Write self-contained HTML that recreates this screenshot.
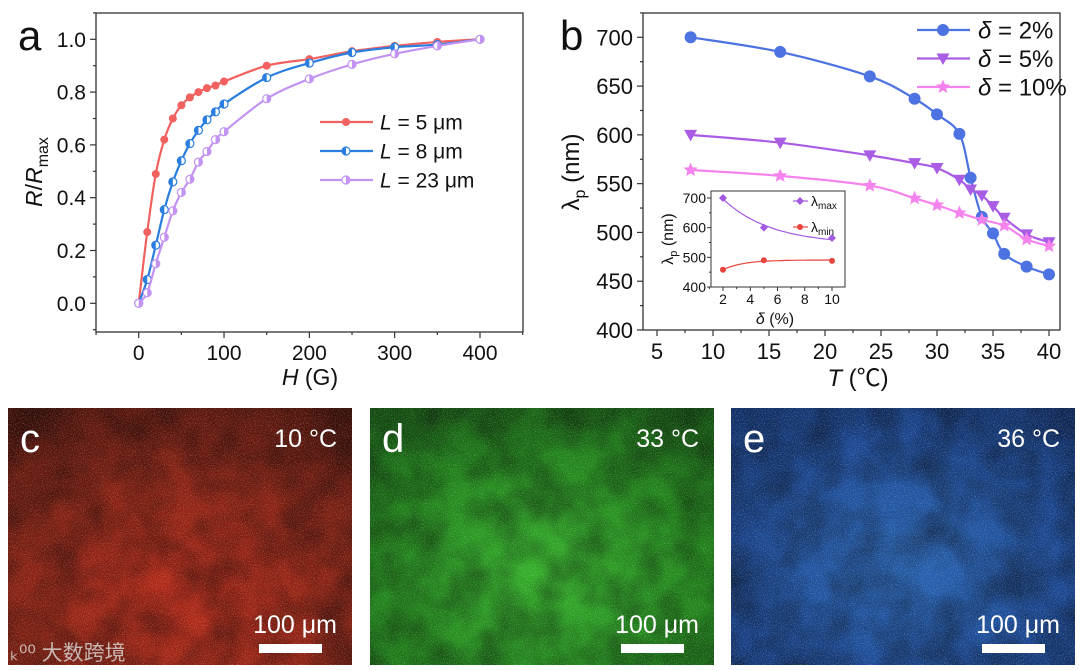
<!DOCTYPE html>
<html><head><meta charset="utf-8">
<style>
body{margin:0;background:#fff;width:1080px;height:670px;overflow:hidden;position:relative;font-family:"Liberation Sans","Noto Sans CJK SC",sans-serif}
svg{position:absolute;left:0;top:0}
</style></head><body>
<svg id="chart" width="1080" height="670" viewBox="0 0 1080 670" font-family="Liberation Sans, Noto Sans CJK SC, sans-serif">
<defs>
<filter id="noise" x="0" y="0" width="100%" height="100%">
<feTurbulence type="fractalNoise" baseFrequency="0.9" numOctaves="2" seed="3" result="t"/>
<feColorMatrix in="t" type="matrix" values="0 0 0 0 1  0 0 0 0 1  0 0 0 0 1  0 0 0 1.8 -0.85"/>
</filter>
<filter id="noiseDark" x="0" y="0" width="100%" height="100%">
<feTurbulence type="fractalNoise" baseFrequency="0.025" numOctaves="3" seed="7"/>
<feColorMatrix type="matrix" values="0 0 0 0 0  0 0 0 0 0  0 0 0 0 0  0 0 0 1.2 -0.35"/>
</filter>
<radialGradient id="gRed" cx="0.5" cy="0.75" r="0.85"><stop offset="0" stop-color="#b82a18"/><stop offset="0.6" stop-color="#822012"/><stop offset="1" stop-color="#4a120a"/></radialGradient>
<radialGradient id="gGreen" cx="0.5" cy="0.65" r="0.8"><stop offset="0" stop-color="#34b02a"/><stop offset="0.6" stop-color="#20821a"/><stop offset="1" stop-color="#124e10"/></radialGradient>
<radialGradient id="gBlue" cx="0.5" cy="0.6" r="0.8"><stop offset="0" stop-color="#2864b4"/><stop offset="0.6" stop-color="#1a4690"/><stop offset="1" stop-color="#0e2a5e"/></radialGradient>
</defs>
<g id="pa"></g>
<g id="pb"></g>
<g id="imgs"></g>
</svg>
<script>
// ---------- Panel a data ----------
const aFields = [0,10,20,30,40,50,60,70,80,90,100,150,200,250,300,350,400];
const aL5 = [0,0.27,0.49,0.62,0.70,0.75,0.78,0.80,0.815,0.825,0.84,0.90,0.925,0.955,0.975,0.99,1.0];
const aL8 = [0,0.09,0.22,0.355,0.46,0.54,0.605,0.655,0.695,0.725,0.755,0.855,0.91,0.95,0.97,0.98,1.0];
const aL23 = [0,0.04,0.15,0.25,0.35,0.42,0.47,0.535,0.575,0.62,0.65,0.775,0.85,0.905,0.945,0.975,1.0];
const aXTicks = [0,100,200,300,400];
const aYTicks = [0,0.2,0.4,0.6,0.8,1.0];
const aYTickLabels = ["0.0","0.2","0.4","0.6","0.8","1.0"];
const aLegend = ["5 μm","8 μm","23 μm"];
// ---------- Panel b data ----------
const bT2 = [8,16,24,28,30,32,33,34,35,36,38,40];
const bD2 = [700,685,660,637,621,601,556,516,499,478,465,457];
const bT5 = [8,16,24,28,30,32,33,34,35,36,38,40];
const bD5 = [600,592,579,571,566,554,544,538,527,515,498,490];
const bT10 = [8,16,24,28,30,32,34,36,38,40];
const bD10 = [564,558,548,535,528,520,513,507,493,486];
const bXTicks = [5,10,15,20,25,30,35,40];
const bYTicks = [400,450,500,550,600,650,700];
const bLegend = ["2%","5%","10%"];
// inset
const inDelta = [2,5,10];
const inMax = [700,600,565];
const inMin = [458,490,488];
const inXTicks = [2,4,6,8,10];
const inYTicks = [400,500,600,700];

const NS="http://www.w3.org/2000/svg";
function mk(parent,tag,attrs,text){const e=document.createElementNS(NS,tag);for(const k in attrs)e.setAttribute(k,attrs[k]);if(text!==undefined)e.textContent=text;parent.appendChild(e);return e;}
function lin(d0,d1,r0,r1){return v=>r0+(v-d0)/(d1-d0)*(r1-r0);}
function spline(pts){
  let d=`M${pts[0][0]},${pts[0][1]}`;
  for(let i=0;i<pts.length-1;i++){
    const p0=pts[Math.max(0,i-1)],p1=pts[i],p2=pts[i+1],p3=pts[Math.min(pts.length-1,i+2)];
    const c1x=p1[0]+(p2[0]-p0[0])/6,c1y=p1[1]+(p2[1]-p0[1])/6;
    const c2x=p2[0]-(p3[0]-p1[0])/6,c2y=p2[1]-(p3[1]-p1[1])/6;
    d+=` C${c1x},${c1y} ${c2x},${c2y} ${p2[0]},${p2[1]}`;
  }
  return d;
}
function star(cx,cy,R){let d="";for(let i=0;i<10;i++){const r=i%2?R*0.45:R;const a=-Math.PI/2+i*Math.PI/5;d+=(i?"L":"M")+(cx+r*Math.cos(a)).toFixed(2)+","+(cy+r*Math.sin(a)).toFixed(2);}return d+"Z";}

// ================= PANEL A =================
(function(){
const g=document.getElementById('pa');
const X=lin(0,400,138.7,480), Y=lin(0,1,303.3,39.3);
const L=96,R=523,T=13,B=332;
const fr=mk(g,'rect',{x:L,y:T,width:R-L,height:B-T,fill:'none',stroke:'#333','stroke-width':1.3});

for(let v=-50;v<=450;v+=50){const big=v%100===0;mk(g,'line',{x1:X(v),x2:X(v),y1:B,y2:B+(big?6:3),stroke:'#333','stroke-width':1.2});}
for(let v=-0.1;v<=1.101;v+=0.1){const big=Math.round(v*10)%2===0;mk(g,'line',{x1:L,x2:L-(big?6:3),y1:Y(v),y2:Y(v),stroke:'#333','stroke-width':1.2});}
aXTicks.forEach(v=>{const t=mk(g,'text',{x:X(v),y:B+28,'font-size':21,'text-anchor':'middle',fill:'#111'},String(v));});
aYTicks.forEach((v,i)=>{const t=mk(g,'text',{x:L-10,y:Y(v)+7.5,'font-size':21,'text-anchor':'end',fill:'#111'},aYTickLabels[i]);});
const xt=mk(g,'text',{x:310,y:385,'font-size':23,'text-anchor':'middle',fill:'#111'});
xt.innerHTML='<tspan font-style="italic">H</tspan> (G)';

const yt=mk(g,'text',{x:0,y:0,'font-size':23,'text-anchor':'middle',fill:'#111',transform:'translate(42,172) rotate(-90)'});
yt.innerHTML='<tspan font-style="italic">R</tspan>/<tspan font-style="italic">R</tspan><tspan font-size="16" dy="6">max</tspan>';

const lab=mk(g,'text',{x:18,y:50,'font-size':42,fill:'#111'},'a');

const series=[[aL5,'#f0615f','full'],[aL8,'#2a7ee0','left'],[aL23,'#c393f2','right']];
function marker(gg,cx,cy,col,type){
  if(type==='full'){mk(gg,'circle',{cx,cy,r:4,fill:col});return;}
  mk(gg,'circle',{cx,cy,r:4,fill:'#fff',stroke:col,'stroke-width':1.2});
  const s=type==='left'?1:0;
  mk(gg,'path',{d:`M${cx},${cy-4} A4,4 0 0 ${s===1?0:1} ${cx},${cy+4} Z`,fill:col});
}
series.forEach((s,si)=>{
  const sg=mk(g,'g',{});
  
  const pts=aFields.map((f,i)=>[X(f),Y(s[0][i])]);
  mk(sg,'path',{d:spline(pts),fill:'none',stroke:s[1],'stroke-width':2.2});
  pts.forEach(p=>marker(sg,p[0],p[1],s[1],s[2]));
  const ly=122+si*29;
  const le=mk(g,'g',{});
  
  mk(le,'line',{x1:320,x2:373,y1:ly,y2:ly,stroke:s[1],'stroke-width':2.2});
  marker(le,346,ly,s[1],s[2]);
  const tx=mk(le,'text',{x:380,y:ly+7.5,'font-size':21,fill:'#111'});
  tx.innerHTML='<tspan font-style="italic">L</tspan> = '+aLegend[si];
});
})();

// ================= PANEL B =================
(function(){
const g=document.getElementById('pb');
const X=lin(5,40,657,1049), Y=lin(400,700,330,37.3);
const L=643,R=1060,T=13,B=330;
const fr=mk(g,'rect',{x:L,y:T,width:R-L,height:B-T,fill:'none',stroke:'#333','stroke-width':1.3});

for(let v=5;v<=40;v+=2.5){const big=v%5===0;mk(g,'line',{x1:X(v),x2:X(v),y1:B,y2:B+(big?6:3),stroke:'#333','stroke-width':1.2});}
for(let v=400;v<=725;v+=25){const big=v%50===0;mk(g,'line',{x1:L,x2:L-(big?6:3),y1:Y(v),y2:Y(v),stroke:'#333','stroke-width':1.2});}
bXTicks.forEach(v=>{const t=mk(g,'text',{x:X(v),y:B+29,'font-size':22,'text-anchor':'middle',fill:'#111'},String(v));});
bYTicks.forEach(v=>{const t=mk(g,'text',{x:L-10,y:Y(v)+8,'font-size':22,'text-anchor':'end',fill:'#111'},String(v));});
const xt=mk(g,'text',{x:858,y:386,'font-size':24,'text-anchor':'middle',fill:'#111'});
xt.innerHTML='<tspan font-style="italic">T</tspan> (℃)';

const yt=mk(g,'text',{x:0,y:0,'font-size':24,'text-anchor':'middle',fill:'#111',transform:'translate(579,172) rotate(-90)'});
yt.innerHTML='λ<tspan font-size="16" dy="6">p</tspan><tspan dy="-6"> (nm)</tspan>';

const lab=mk(g,'text',{x:560,y:50,'font-size':42,fill:'#111'},'b');

function marker(gg,cx,cy,col,type){
  if(type==='c')mk(gg,'circle',{cx,cy,r:6,fill:col});
  else if(type==='t')mk(gg,'path',{d:`M${cx-6.5},${cy-5} L${cx+6.5},${cy-5} L${cx},${cy+6.5}Z`,fill:col});
  else mk(gg,'path',{d:star(cx,cy,7.5),fill:col});
}
const series=[[bT2,bD2,'#4d72e2','c'],[bT5,bD5,'#a95ce4','t'],[bT10,bD10,'#f583ee','s']];
series.forEach((s,si)=>{
  const sg=mk(g,'g',{});
  
  const pts=s[0].map((t,i)=>[X(t),Y(s[1][i])]);
  mk(sg,'path',{d:spline(pts),fill:'none',stroke:s[2],'stroke-width':2.2});
  pts.forEach(p=>marker(sg,p[0],p[1],s[2],s[3]));
  const ly=30+si*28.5;
  const le=mk(g,'g',{});
  
  mk(le,'line',{x1:917,x2:970,y1:ly,y2:ly,stroke:s[2],'stroke-width':2.2});
  marker(le,943,ly,s[2],s[3]);
  const tx=mk(le,'text',{x:978,y:ly+8.5,'font-size':24,fill:'#111'});
  tx.innerHTML='<tspan font-style="italic">δ</tspan> = '+bLegend[si];
});
// ---- inset ----
const ig=mk(g,'g',{});

const IX=lin(2,10,723,832), IY=lin(400,700,287,198);
const iL=711,iR=845,iT=191,iB=287;
mk(ig,'rect',{x:iL,y:iT,width:iR-iL,height:iB-iT,fill:'#fff',stroke:'#333','stroke-width':1});
for(let v=1;v<=10.6;v+=1){const big=v%2===0;mk(ig,'line',{x1:IX(v),x2:IX(v),y1:iB,y2:iB+(big?4:2),stroke:'#333','stroke-width':1});}
for(let v=400;v<=720;v+=50){const big=v%100===0;mk(ig,'line',{x1:iL,x2:iL-(big?4:2),y1:IY(v),y2:IY(v),stroke:'#333','stroke-width':1});}
inXTicks.forEach(v=>mk(ig,'text',{x:IX(v),y:iB+17,'font-size':14,'text-anchor':'middle',fill:'#111'},String(v)));
inYTicks.forEach(v=>mk(ig,'text',{x:iL-5,y:IY(v)+5,'font-size':14,'text-anchor':'end',fill:'#111'},String(v)));
const ixt=mk(ig,'text',{x:775,y:324,'font-size':16,'text-anchor':'middle',fill:'#111'});
ixt.innerHTML='<tspan font-style="italic">δ</tspan> (%)';
const iyt=mk(ig,'text',{x:0,y:0,'font-size':16,'text-anchor':'middle',fill:'#111',transform:'translate(673,239) rotate(-90)'});
iyt.innerHTML='λ<tspan font-size="11" dy="4">p</tspan><tspan dy="-4"> (nm)</tspan>';
function fit(xs,ys,tau){
  const f=xs.map(x=>Math.exp(-(x-2)/tau));const n=xs.length;
  const mf=f.reduce((a,b)=>a+b)/n,my=ys.reduce((a,b)=>a+b)/n;
  let sxy=0,sxx=0;f.forEach((v,i)=>{sxy+=(v-mf)*(ys[i]-my);sxx+=(v-mf)*(v-mf);});
  const A=sxy/sxx,c=my-A*mf;return x=>c+A*Math.exp(-(x-2)/tau);
}
const fMax=fit(inDelta,inMax,3.5), fMin=fit(inDelta,inMin,1.5);
[[fMax,inMax,'#a25ae0'],[fMin,inMin,'#e8453c']].forEach((s,si)=>{
  let d='';for(let x=2;x<=10.001;x+=0.2)d+=(d?'L':'M')+IX(x).toFixed(1)+','+IY(s[0](x)).toFixed(1);
  const sg=mk(ig,'g',{});
  
  mk(sg,'path',{d,fill:'none',stroke:s[2],'stroke-width':1.2});
  inDelta.forEach((x,i)=>{
    if(si===0)mk(sg,'path',{d:`M${IX(x)},${IY(s[1][i])-4} l4,4 l-4,4 l-4,-4Z`,fill:s[2]});
    else mk(sg,'circle',{cx:IX(x),cy:IY(s[1][i]),r:3,fill:s[2]});
  });
  const ly=si?227:201;
  mk(sg,'line',{x1:793,x2:808,y1:ly,y2:ly,stroke:s[2],'stroke-width':1.2});
  if(si===0)mk(sg,'path',{d:`M800,${ly-4} l4,4 l-4,4 l-4,-4Z`,fill:s[2]});else mk(sg,'circle',{cx:800,cy:ly,r:3,fill:s[2]});
  const t=mk(sg,'text',{x:811,y:ly+5,'font-size':14,fill:'#111'});
  t.innerHTML='λ<tspan font-size="10" dy="3">'+(si?'min':'max')+'</tspan>';
});
})();

// ================= IMAGE PANELS =================
(function(){
const g=document.getElementById('imgs');
const panels=[[8,'url(#gRed)','c','10 °C','#ff5a3c'],[370,'url(#gGreen)','d','33 °C','#7cff6a'],[731,'url(#gBlue)','e','36 °C','#6ab0ff']];
const W=344,T=408,H=257;
panels.forEach(p=>{
  const pg=mk(g,'g',{});
  
  mk(pg,'rect',{x:p[0],y:T,width:W,height:H,fill:p[1]});
  mk(pg,'rect',{x:p[0],y:T,width:W,height:H,filter:'url(#noiseDark)',opacity:0.6});
  mk(pg,'rect',{x:p[0],y:T,width:W,height:H,fill:p[4],filter:'url(#noise)',opacity:0.4});
  mk(pg,'text',{x:p[0]+12,y:452,'font-size':40,fill:'#fff'},p[2]);
  mk(pg,'text',{x:p[0]+329,y:447,'font-size':25,fill:'#fff','text-anchor':'end'},p[3]);
  mk(pg,'text',{x:p[0]+329,y:633,'font-size':25,fill:'#fff','text-anchor':'end'},'100 μm');
  const sb=mk(pg,'rect',{x:p[0]+251,y:644,width:63,height:9,fill:'#fff'});
  
});
const wm=mk(g,'text',{x:10,y:660,'font-size':21,fill:'#d8d0cc',opacity:0.85},'ₖ⁰⁰ 大数跨境');

})();
</script>
</body></html>
